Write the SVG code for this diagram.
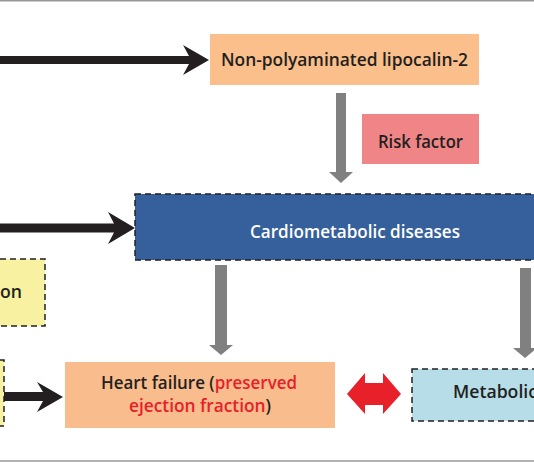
<svg xmlns="http://www.w3.org/2000/svg" width="534" height="462" viewBox="0 0 534 462">
<style>
.t{font-family:"Open Sans","Liberation Sans",sans-serif;font-weight:600;font-size:18.5px;fill:#231F20}
.w{fill:#FFFFFF}
.r{fill:#E8202A}
.dash{stroke:#231F20;stroke-width:1.5;stroke-dasharray:6 4}
.blk{fill:#231F20}
.gry{fill:#808080}
</style>
<rect x="0" y="0" width="534" height="462" fill="#FFFFFF"/>
<line x1="0" y1="0.8" x2="534" y2="0.8" stroke="#999999" stroke-width="1.6"/>
<line x1="0" y1="461" x2="534" y2="461" stroke="#999999" stroke-width="1.6"/>
<g id="connectors">
<polygon class="blk" points="0,56 189,56 183,45 209,60 183,75 189,64 0,64"/>
<polygon class="blk" points="0,223.5 114,223.5 108,212 135,228 108,244 114,232.5 0,232.5"/>
<polygon class="blk" points="4,392 43,392 37,382 63,397 37,412 43,401 4,401"/>
<polygon class="gry" points="336,93 346,93 346,172 353,172 341,183 329,172 336,172"/>
<polygon class="gry" points="215,265 227,265 227,345 233,345 221,355 209,345 215,345"/>
<polygon class="gry" points="520,268 531,268 531,348 537,348 525,358 513,348 520,348"/>
<polygon fill="#E8202A" points="347,394 365,373 365,383 383,383 383,373 401,394 383,414 383,405 365,405 365,414"/>
</g>
<g id="lipocalin">
<rect x="210" y="34" width="269" height="51" fill="#FBBF8B"/>
<text class="t" x="344.5" y="66" text-anchor="middle" textLength="247" lengthAdjust="spacingAndGlyphs">Non-polyaminated lipocalin-2</text>
</g>
<g id="risk">
<rect x="362" y="114" width="117" height="50" fill="#F08587"/>
<text class="t" x="420.5" y="148" text-anchor="middle" textLength="85" lengthAdjust="spacingAndGlyphs">Risk factor</text>
</g>
<g id="cardiometabolic">
<rect x="135" y="194" width="420" height="66" fill="#36609B" class="dash"/>
<text class="t w" x="355" y="238" text-anchor="middle" textLength="210" lengthAdjust="spacingAndGlyphs">Cardiometabolic diseases</text>
</g>
<g id="yellow1">
<rect x="-10" y="259" width="55" height="67" fill="#F8F1A2" class="dash"/>
<text class="t" x="0" y="298" textLength="22" lengthAdjust="spacingAndGlyphs">on</text>
</g>
<g id="yellow2">
<rect x="-10" y="360" width="14" height="66" fill="#F8F1A2" class="dash"/>
</g>
<g id="heartfailure">
<rect x="65" y="362" width="270" height="66" fill="#F9BC8C"/>
<text class="t" x="199" y="389" text-anchor="middle" textLength="196" lengthAdjust="spacingAndGlyphs">Heart failure (<tspan class="r">preserved</tspan></text>
<text class="t" x="200" y="412" text-anchor="middle" textLength="142" lengthAdjust="spacingAndGlyphs"><tspan class="r">ejection fraction</tspan>)</text>
</g>
<g id="metabolic">
<rect x="412" y="369" width="140" height="52" fill="#B7DEE8" class="dash"/>
<text class="t" x="453" y="398" textLength="84" lengthAdjust="spacingAndGlyphs">Metabolic</text>
</g>
</svg>
